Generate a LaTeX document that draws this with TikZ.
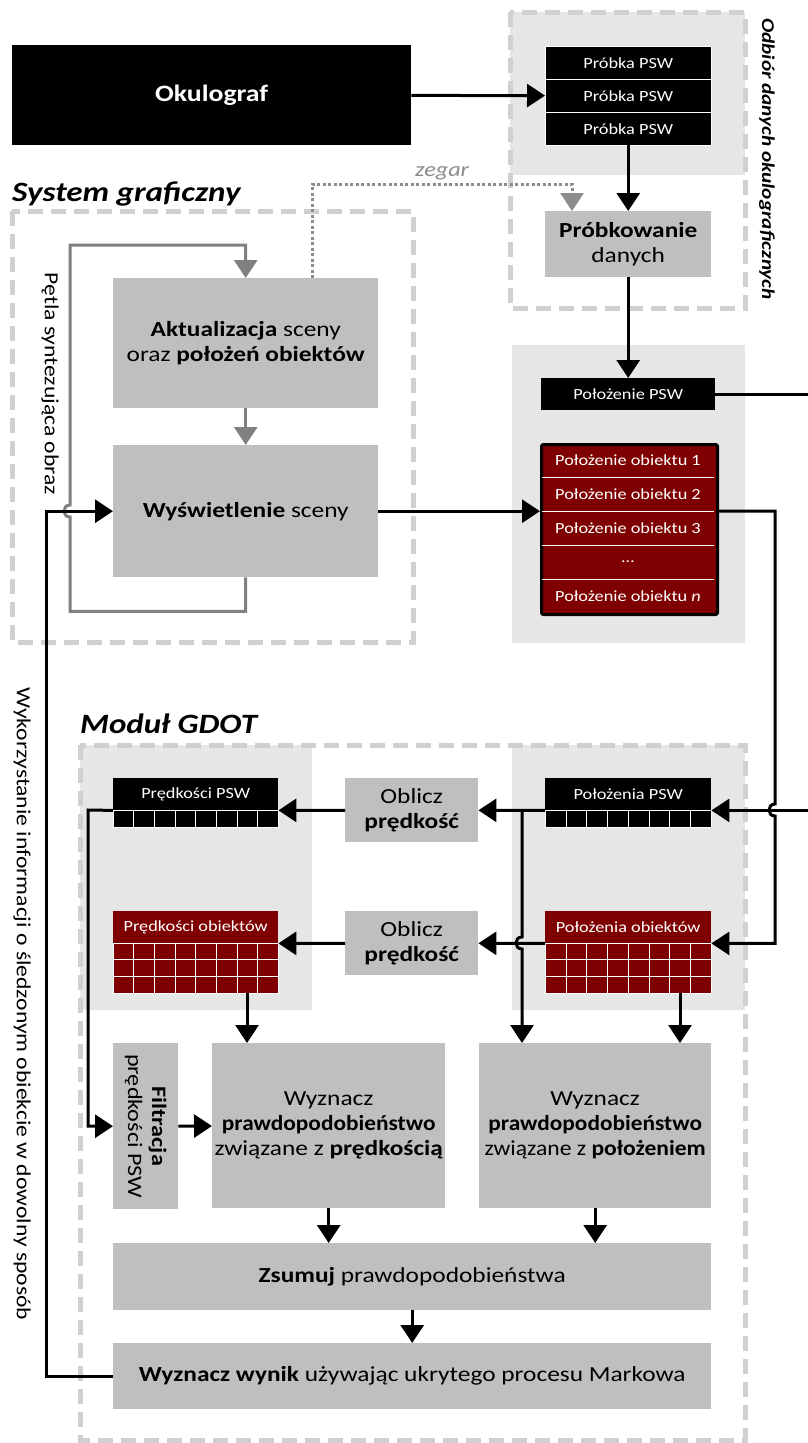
\documentclass[tikz,border=0pt]{standalone}
\usepackage{fontspec}
\setmainfont{Carlito}[FakeStretch=1.18]
\usetikzlibrary{arrows.meta}

\definecolor{boxgray}{HTML}{BFBFBF}
\definecolor{areagray}{HTML}{E6E6E6}
\definecolor{dashgray}{HTML}{D0D0D0}
\definecolor{loopgray}{HTML}{808080}
\definecolor{clockgray}{HTML}{8C8C8C}
\definecolor{darkred}{HTML}{7F0000}

\newcommand{\fbig}{\fontsize{21.5}{25}\selectfont}
\newcommand{\fsmall}{\fontsize{15.5}{18}\selectfont}
\newcommand{\prawd}{\scalebox{0.92}[1]{\textbf{prawdopodobieństwo}}}

\tikzset{
  sz/.style 2 args={minimum width=#1pt, minimum height=#2pt},
  box/.style={fill=boxgray, inner sep=0pt, anchor=north west, align=center, font=\fbig},
  datbox/.style={fill=black, text=white, inner sep=0pt, anchor=north west, font=\fsmall},
  objbox/.style={datbox, fill=darkred},
  regionframe/.style={draw=dashgray, line width=5pt, dash pattern=on 15pt off 8pt},
  arr/.style={line width=3pt, -{Triangle[length=18pt, width=23pt]}},
  gline/.style={arr, color=loopgray},
  clock/.style={arr, color=clockgray, dash pattern=on 3pt off 2.5pt},
  title/.style={font=\fontsize{28}{32}\selectfont\bfseries\itshape, anchor=base west, inner sep=0pt},
  side/.style={rotate=-90, font=\fontsize{20}{23}\selectfont, inner sep=0pt},
}

\begin{document}
\begin{tikzpicture}[x=1pt, y=-1pt]
\useasboundingbox (0,0) rectangle (807,1443);

% obszary
\fill[areagray] (510,12) rectangle (745,175);
\fill[areagray] (512,345) rectangle (745,643);
\fill[areagray] (80,745) rectangle (312,1010);
\fill[areagray] (512,745) rectangle (745,1010);
\draw[regionframe] (510,12) rectangle (745,308);
\draw[regionframe] (12,211) rectangle (413,642);
\draw[regionframe] (80,745) rectangle (745,1440);

% naglowki i opisy
\node[title] (sysg) at (12,201) {System graficzny};
\node[title] (gdot) at (80,733) {Moduł GDOT};
\node[side, font=\fontsize{18}{21}\selectfont\bfseries\itshape] (odb) at (767,159) {Odbiór danych okulograficznych};
\node[side] (petla) at (50,384) {Pętla syntezująca obraz};
\node[side] (wyk) at (22,1004) {Wykorzystanie informacji o śledzonym obiekcie w dowolny sposób};
\node[font=\fontsize{20.5}{24}\selectfont\itshape, text=clockgray, anchor=base] (zeg) at (442,176) {zegar};

% okulograf
\node[box, fill=black, text=white, font=\fontsize{23.5}{28}\selectfont\bfseries, sz={399}{100}] (okul) at (12,45) {Okulograf};
\foreach \i in {1,2,3}
  \node[datbox, draw=white, sz={166}{33}] (pr\i) at (545,13+33*\i) {Próbka PSW};
\node[box, sz={166}{66}] (prb) at (545,211) {\textbf{Próbkowanie}\\danych};

% system graficzny
\node[box, sz={265}{130}] (akt) at (113,278) {\textbf{Aktualizacja} sceny\\oraz \textbf{położeń obiektów}};
\node[box, sz={265}{132}] (wys) at (113,445) {\textbf{Wyświetlenie} sceny};

% polozenia
\node[datbox, sz={174}{32}] (pol) at (541,378) {Położenie PSW};
\node[objbox, draw=black, line width=3pt, rounded corners=2pt, sz={176}{170}] (obst) at (540,443) {};
\foreach \t [count=\i] in {Położenie obiektu 1, Położenie obiektu 2, Położenie obiektu 3, \ldots, Położenie obiektu \textit{n}}
  \node[text=white, font=\fsmall] (ob\i) at (628,426+34*\i) {\t};
\foreach \i in {1,...,4}
  \draw[white] (542,443+34*\i) -- (714,443+34*\i);

% modul GDOT
\node[datbox, sz={165}{32}] (vpsw) at (113,778) {Prędkości PSW};
\node[objbox, sz={165}{32}] (vobj) at (113,911) {Prędkości obiektów};
\node[box, sz={133}{64}] (obl1) at (345,778) {Oblicz\\\textbf{prędkość}};
\node[box, sz={133}{64}] (obl2) at (345,911) {Oblicz\\\textbf{prędkość}};
\node[datbox, sz={166}{32}] (ppsw) at (545,778) {Położenia PSW};
\node[objbox, sz={166}{32}] (pobj) at (545,911) {Położenia obiektów};
\foreach \x in {0,...,7} {
  \draw[white, fill=black] (113+20.625*\x,810) rectangle ++(20.625,17);
  \draw[white, fill=black] (545+20.75*\x,810) rectangle ++(20.75,17);
  \foreach \r in {0,1,2} {
    \draw[white, fill=darkred] (113+20.625*\x,943+16.67*\r) rectangle ++(20.625,16.67);
    \draw[white, fill=darkred] (545+20.75*\x,943+16.67*\r) rectangle ++(20.75,16.67);
  }
}
\coordinate (vgrid) at (247,993);
\coordinate (pgrid) at (680,993);
\coordinate (br) at (522,810);

\node[box, sz={65}{166}] (filt) at (113,1043) {};
\node[side, align=center, font=\fontsize{20.5}{24}\selectfont] (filtt) at (filt.center) {\textbf{Filtracja}\\prędkości PSW};
\node[box, sz={233}{165}] (wvel) at (212,1043) {Wyznacz\\\prawd\\związane z \textbf{prędkością}};
\node[box, sz={232}{165}] (wpos) at (479,1043) {Wyznacz\\\prawd\\\scalebox{0.93}[1]{związane z \textbf{położeniem}}};
\node[box, sz={598}{67}] (zsum) at (113,1243) {\textbf{Zsumuj} prawdopodobieństwa};
\node[box, sz={598}{66}] (wyn) at (113,1343) {\textbf{Wyznacz wynik} używając ukrytego procesu Markowa};

% polaczenia
\draw[arr] (okul) -- (pr2);
\draw[arr] (pr3) -- (prb);
\draw[arr] (prb) -- (pol);
\draw[clock] (akt.north -| 312,0) |- (572,184) -- (prb.north -| 572,0);
\draw[gline] (akt) -- (wys);
\draw[gline] (wys.south) -- ++(0,34) -| (70,517) .. controls (62,517) and (62,505) .. (70,505) -- (70,245) -| (akt.north);
\draw[arr] (wyn.west) -| (46,700) |- (wys.west);
\draw[arr] (wys.east) -- (obst.west |- wys.east);
\draw[arr] (pol.east) -| (830,600) |- (ppsw.south east);
\draw[arr] (obst.east |- wys.east) -- (775,511) -- (775,804) .. controls (767,804) and (767,816) .. (775,816) |- (pobj.south east);
\draw[arr] (ppsw.south west) -- (obl1);
\draw[arr] (obl1) -- (vpsw.south east);
\draw[arr] (pobj.south west) -- (obl2);
\draw[arr] (obl2) -- (vobj.south east);
\draw[arr] (br) -- (522,937) .. controls (514,937) and (514,949) .. (522,949) -- (br |- wpos.north);
\draw[arr] (vgrid) -- (vgrid |- wvel.north);
\draw[arr] (pgrid) -- (pgrid |- wpos.north);
\draw[arr] (vpsw.south west) -- (88,810) |- (filt.west);
\draw[arr] (filt) -- (wvel);
\draw[arr] (wvel) -- (wvel |- zsum.north);
\draw[arr] (wpos) -- (wpos |- zsum.north);
\draw[arr] (zsum) -- (wyn);
\end{tikzpicture}
\end{document}
